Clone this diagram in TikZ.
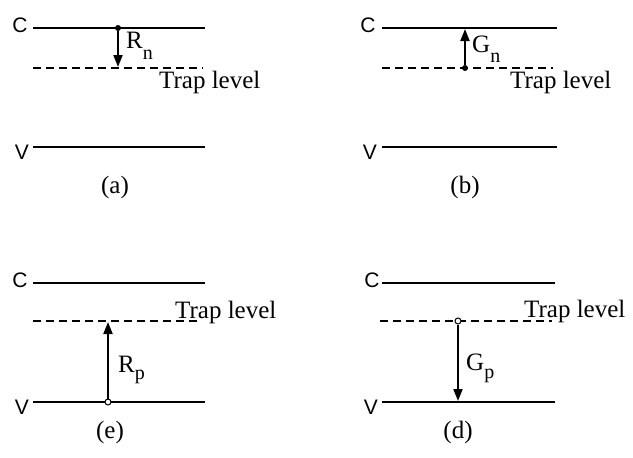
\documentclass[tikz,border=0pt]{standalone}
\usepackage{fontspec}
\setmainfont{Liberation Serif}
\newfontfamily\bandfont{Liberation Sans}
\usetikzlibrary{arrows.meta}
\newcommand\lowsub[2]{\raisebox{-#1}{\fontsize{20}{20}\selectfont #2}}
\begin{document}
\begin{tikzpicture}[x=1pt,y=-1pt,
  band/.style={line width=2pt},
  trap/.style={line width=1.6pt, dash pattern=on 8pt off 5pt},
  lbl/.style={font=\fontsize{25}{25}\selectfont, inner sep=0pt},
  bandlbl/.style={font=\bandfont\fontsize{21}{21}\selectfont, inner sep=0pt},
  fdot/.style={circle, fill=black, inner sep=0pt, minimum size=6pt},
  odot/.style={circle, draw=black, fill=white, inner sep=0pt, minimum size=6pt, line width=1pt},
  arr/.style={line width=1.8pt, -{Triangle[length=12pt,width=9pt]}}]
\useasboundingbox (0,0) rectangle (633,458);
% ---------- (a)
\coordinate (aC1) at (33,28); \coordinate (aC2) at (205,28);
\coordinate (aT1) at (33,68); \coordinate (aT2) at (203,68);
\coordinate (aV1) at (33,147); \coordinate (aV2) at (205,147);
\draw[band] (aC1) -- (aC2);
\draw[trap] (aT1) -- (aT2);
\draw[band] (aV1) -- (aV2);
\node[bandlbl] (aCl) at (20,25) {C};
\node[bandlbl] (aVl) at (22,152) {V};
\node[lbl, anchor=base west] (aTl) at (159,88) {Trap level};
\node[fdot] (aD) at (118,28) {};
\coordinate (aE) at (118,67);
\draw[arr] (aD) -- (aE);
\node[lbl, anchor=base west] (aR) at (126,48) {R\lowsub{11pt}{n}};
\node[lbl] (aCap) at (115,187) {(a)};
% ---------- (b)
\coordinate (bC1) at (382,28); \coordinate (bC2) at (557,28);
\coordinate (bT1) at (382,68); \coordinate (bT2) at (553,68);
\coordinate (bV1) at (382,147); \coordinate (bV2) at (557,147);
\draw[band] (bC1) -- (bC2);
\draw[trap] (bT1) -- (bT2);
\draw[band] (bV1) -- (bV2);
\node[bandlbl] (bCl) at (368,25) {C};
\node[bandlbl] (bVl) at (370,152) {V};
\node[lbl, anchor=base west] (bTl) at (510,88) {Trap level};
\node[fdot] (bD) at (465,68) {};
\coordinate (bE) at (465,29);
\draw[arr] (bD) -- (bE);
\node[lbl, anchor=base west] (bG) at (472,52) {G\lowsub{10pt}{n}};
\node[lbl] (bCap) at (465,187) {(b)};
% ---------- (e)
\coordinate (eC1) at (33,283); \coordinate (eC2) at (205,283);
\coordinate (eT1) at (33,321); \coordinate (eT2) at (200,321);
\coordinate (eV1) at (33,402); \coordinate (eV2) at (205,402);
\draw[band] (eC1) -- (eC2);
\draw[trap] (eT1) -- (eT2);
\draw[band] (eV1) -- (eV2);
\node[bandlbl] (eCl) at (20,280) {C};
\node[bandlbl] (eVl) at (22,407) {V};
\node[lbl, anchor=base west] (eTl) at (175,318) {Trap level};
\node[odot] (eD) at (108,402) {};
\coordinate (eE) at (108,322);
\draw[arr] (eD) -- (eE);
\node[lbl, anchor=base west] (eR) at (118,372) {R\lowsub{7pt}{p}};
\node[lbl] (eCap) at (110,432) {(e)};
% ---------- (d)
\coordinate (dC1) at (382,283); \coordinate (dC2) at (555,283);
\coordinate (dT1) at (380,321); \coordinate (dT2) at (552,321);
\coordinate (dV1) at (382,402); \coordinate (dV2) at (555,402);
\draw[band] (dC1) -- (dC2);
\draw[trap] (dT1) -- (dT2);
\draw[band] (dV1) -- (dV2);
\node[bandlbl] (dCl) at (372,280) {C};
\node[bandlbl] (dVl) at (371,407) {V};
\node[lbl, anchor=base west] (dTl) at (524,317) {Trap level};
\node[odot] (dD) at (458,321) {};
\coordinate (dE) at (458,401);
\draw[arr] (dD) -- (dE);
\node[lbl, anchor=base west] (dG) at (466,370) {G\lowsub{8pt}{p}};
\node[lbl] (dCap) at (458,432) {(d)};
\end{tikzpicture}
\end{document}
